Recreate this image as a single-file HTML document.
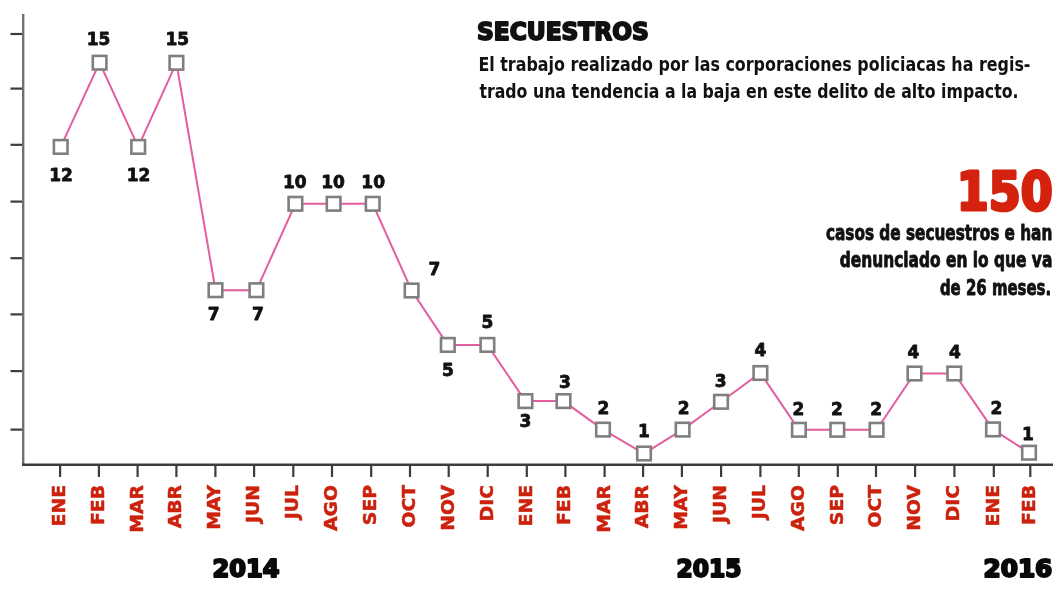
<!DOCTYPE html>
<html><head><meta charset="utf-8"><title>Secuestros</title>
<style>
html,body{margin:0;padding:0;background:#fff;}
body{width:1060px;height:598px;overflow:hidden;position:relative;font-family:"Liberation Sans",sans-serif;}
svg{position:absolute;left:0;top:0;}
.v{font-family:'DejaVu Sans',sans-serif;font-weight:bold;font-size:17px;fill:#111;stroke:#111;stroke-width:0.8px;stroke-linejoin:round;text-anchor:middle;}
.m{font-family:'DejaVu Sans Condensed','DejaVu Sans',sans-serif;font-weight:bold;font-size:18.5px;fill:#cc220d;stroke:#cc220d;stroke-width:0.5px;stroke-linejoin:round;text-anchor:end;}
.yr{font-family:'DejaVu Sans Condensed','DejaVu Sans',sans-serif;font-weight:bold;font-size:25.6px;fill:#0a0a0a;stroke:#0a0a0a;stroke-width:2.0px;stroke-linejoin:round;}
.t{position:absolute;white-space:nowrap;margin:0;font-weight:bold;line-height:1;}
</style></head>
<body>
<svg width="1060" height="598" viewBox="0 0 1060 598">
<line x1="23.2" y1="14" x2="23.2" y2="465.5" stroke="#707070" stroke-width="2.4"/>
<line x1="10.5" y1="34" x2="22" y2="34" stroke="#3c3c3c" stroke-width="2.2"/>
<line x1="10.5" y1="88.6" x2="22" y2="88.6" stroke="#3c3c3c" stroke-width="2.2"/>
<line x1="10.5" y1="144.8" x2="22" y2="144.8" stroke="#3c3c3c" stroke-width="2.2"/>
<line x1="10.5" y1="201.6" x2="22" y2="201.6" stroke="#3c3c3c" stroke-width="2.2"/>
<line x1="10.5" y1="258.2" x2="22" y2="258.2" stroke="#3c3c3c" stroke-width="2.2"/>
<line x1="10.5" y1="314.4" x2="22" y2="314.4" stroke="#3c3c3c" stroke-width="2.2"/>
<line x1="10.5" y1="371.1" x2="22" y2="371.1" stroke="#3c3c3c" stroke-width="2.2"/>
<line x1="10.5" y1="429.6" x2="22" y2="429.6" stroke="#3c3c3c" stroke-width="2.2"/>
<line x1="22" y1="464.8" x2="1053" y2="464.8" stroke="#3c3c3c" stroke-width="2.4"/>
<line x1="60.1" y1="465" x2="60.1" y2="477" stroke="#3c3c3c" stroke-width="2.2"/>
<line x1="98.9" y1="465" x2="98.9" y2="477" stroke="#3c3c3c" stroke-width="2.2"/>
<line x1="137.6" y1="465" x2="137.6" y2="477" stroke="#3c3c3c" stroke-width="2.2"/>
<line x1="176.4" y1="465" x2="176.4" y2="477" stroke="#3c3c3c" stroke-width="2.2"/>
<line x1="215.4" y1="465" x2="215.4" y2="477" stroke="#3c3c3c" stroke-width="2.2"/>
<line x1="254.1" y1="465" x2="254.1" y2="477" stroke="#3c3c3c" stroke-width="2.2"/>
<line x1="293.3" y1="465" x2="293.3" y2="477" stroke="#3c3c3c" stroke-width="2.2"/>
<line x1="332.0" y1="465" x2="332.0" y2="477" stroke="#3c3c3c" stroke-width="2.2"/>
<line x1="371.2" y1="465" x2="371.2" y2="477" stroke="#3c3c3c" stroke-width="2.2"/>
<line x1="410.0" y1="465" x2="410.0" y2="477" stroke="#3c3c3c" stroke-width="2.2"/>
<line x1="448.7" y1="465" x2="448.7" y2="477" stroke="#3c3c3c" stroke-width="2.2"/>
<line x1="487.7" y1="465" x2="487.7" y2="477" stroke="#3c3c3c" stroke-width="2.2"/>
<line x1="526.8" y1="465" x2="526.8" y2="477" stroke="#3c3c3c" stroke-width="2.2"/>
<line x1="565.4" y1="465" x2="565.4" y2="477" stroke="#3c3c3c" stroke-width="2.2"/>
<line x1="604.6" y1="465" x2="604.6" y2="477" stroke="#3c3c3c" stroke-width="2.2"/>
<line x1="643.1" y1="465" x2="643.1" y2="477" stroke="#3c3c3c" stroke-width="2.2"/>
<line x1="681.9" y1="465" x2="681.9" y2="477" stroke="#3c3c3c" stroke-width="2.2"/>
<line x1="721.1" y1="465" x2="721.1" y2="477" stroke="#3c3c3c" stroke-width="2.2"/>
<line x1="760.4" y1="465" x2="760.4" y2="477" stroke="#3c3c3c" stroke-width="2.2"/>
<line x1="798.8" y1="465" x2="798.8" y2="477" stroke="#3c3c3c" stroke-width="2.2"/>
<line x1="837.8" y1="465" x2="837.8" y2="477" stroke="#3c3c3c" stroke-width="2.2"/>
<line x1="876.0" y1="465" x2="876.0" y2="477" stroke="#3c3c3c" stroke-width="2.2"/>
<line x1="915.1" y1="465" x2="915.1" y2="477" stroke="#3c3c3c" stroke-width="2.2"/>
<line x1="954.4" y1="465" x2="954.4" y2="477" stroke="#3c3c3c" stroke-width="2.2"/>
<line x1="993.8" y1="465" x2="993.8" y2="477" stroke="#3c3c3c" stroke-width="2.2"/>
<line x1="1030.3" y1="465" x2="1030.3" y2="477" stroke="#3c3c3c" stroke-width="2.2"/>
<path d="M60.7,146.9 L99.6,62.7 L138.2,146.9 L176.4,62.8 L215.5,290.2 L256.4,290.2 L295.4,203.8 L333.6,203.8 L372.7,203.8 L411.6,290.5 L447.8,344.9 L487.4,344.9 L525.4,401.1 L563.5,401.1 L603.0,429.6 L644.0,453.5 L682.6,429.6 L721.0,401.8 L760.4,373.0 L798.9,429.8 L837.3,429.8 L876.6,429.8 L914.5,373.5 L954.3,373.5 L993.0,429.4 L1029.0,452.7" fill="none" stroke="#e35d9f" stroke-width="2.0"/>
<rect x="53.9" y="140.1" width="13.6" height="13.6" fill="#fff" stroke="#7f7f7f" stroke-width="2.6"/>
<rect x="92.8" y="55.9" width="13.6" height="13.6" fill="#fff" stroke="#7f7f7f" stroke-width="2.6"/>
<rect x="131.4" y="140.1" width="13.6" height="13.6" fill="#fff" stroke="#7f7f7f" stroke-width="2.6"/>
<rect x="169.6" y="56.0" width="13.6" height="13.6" fill="#fff" stroke="#7f7f7f" stroke-width="2.6"/>
<rect x="208.7" y="283.4" width="13.6" height="13.6" fill="#fff" stroke="#7f7f7f" stroke-width="2.6"/>
<rect x="249.6" y="283.4" width="13.6" height="13.6" fill="#fff" stroke="#7f7f7f" stroke-width="2.6"/>
<rect x="288.6" y="197.0" width="13.6" height="13.6" fill="#fff" stroke="#7f7f7f" stroke-width="2.6"/>
<rect x="326.8" y="197.0" width="13.6" height="13.6" fill="#fff" stroke="#7f7f7f" stroke-width="2.6"/>
<rect x="365.9" y="197.0" width="13.6" height="13.6" fill="#fff" stroke="#7f7f7f" stroke-width="2.6"/>
<rect x="404.8" y="283.7" width="13.6" height="13.6" fill="#fff" stroke="#7f7f7f" stroke-width="2.6"/>
<rect x="441.0" y="338.1" width="13.6" height="13.6" fill="#fff" stroke="#7f7f7f" stroke-width="2.6"/>
<rect x="480.6" y="338.1" width="13.6" height="13.6" fill="#fff" stroke="#7f7f7f" stroke-width="2.6"/>
<rect x="518.6" y="394.3" width="13.6" height="13.6" fill="#fff" stroke="#7f7f7f" stroke-width="2.6"/>
<rect x="556.7" y="394.3" width="13.6" height="13.6" fill="#fff" stroke="#7f7f7f" stroke-width="2.6"/>
<rect x="596.2" y="422.8" width="13.6" height="13.6" fill="#fff" stroke="#7f7f7f" stroke-width="2.6"/>
<rect x="637.2" y="446.7" width="13.6" height="13.6" fill="#fff" stroke="#7f7f7f" stroke-width="2.6"/>
<rect x="675.8" y="422.8" width="13.6" height="13.6" fill="#fff" stroke="#7f7f7f" stroke-width="2.6"/>
<rect x="714.2" y="395.0" width="13.6" height="13.6" fill="#fff" stroke="#7f7f7f" stroke-width="2.6"/>
<rect x="753.6" y="366.2" width="13.6" height="13.6" fill="#fff" stroke="#7f7f7f" stroke-width="2.6"/>
<rect x="792.1" y="423.0" width="13.6" height="13.6" fill="#fff" stroke="#7f7f7f" stroke-width="2.6"/>
<rect x="830.5" y="423.0" width="13.6" height="13.6" fill="#fff" stroke="#7f7f7f" stroke-width="2.6"/>
<rect x="869.8" y="423.0" width="13.6" height="13.6" fill="#fff" stroke="#7f7f7f" stroke-width="2.6"/>
<rect x="907.7" y="366.7" width="13.6" height="13.6" fill="#fff" stroke="#7f7f7f" stroke-width="2.6"/>
<rect x="947.5" y="366.7" width="13.6" height="13.6" fill="#fff" stroke="#7f7f7f" stroke-width="2.6"/>
<rect x="986.2" y="422.6" width="13.6" height="13.6" fill="#fff" stroke="#7f7f7f" stroke-width="2.6"/>
<rect x="1022.2" y="445.9" width="13.6" height="13.6" fill="#fff" stroke="#7f7f7f" stroke-width="2.6"/>
<text transform="translate(61.0,181.0) scale(1.0,1)" class="v">12</text>
<text transform="translate(98.5,44.5) scale(1.0,1)" class="v">15</text>
<text transform="translate(138.5,181.2) scale(1.0,1)" class="v">12</text>
<text transform="translate(177.3,44.5) scale(1.0,1)" class="v">15</text>
<text transform="translate(213.6,319.7) scale(1.0,1)" class="v">7</text>
<text transform="translate(258.0,319.7) scale(1.0,1)" class="v">7</text>
<text transform="translate(294.8,187.9) scale(1.0,1)" class="v">10</text>
<text transform="translate(333.0,187.9) scale(1.0,1)" class="v">10</text>
<text transform="translate(373.2,187.9) scale(1.0,1)" class="v">10</text>
<text transform="translate(434.3,275.1) scale(1.0,1)" class="v">7</text>
<text transform="translate(447.8,376.0) scale(1.0,1)" class="v">5</text>
<text transform="translate(487.5,327.9) scale(1.0,1)" class="v">5</text>
<text transform="translate(525.4,427.4) scale(1.0,1)" class="v">3</text>
<text transform="translate(564.9,387.9) scale(1.0,1)" class="v">3</text>
<text transform="translate(603.4,413.7) scale(1.0,1)" class="v">2</text>
<text transform="translate(644.0,437.2) scale(1.0,1)" class="v">1</text>
<text transform="translate(683.7,413.8) scale(1.0,1)" class="v">2</text>
<text transform="translate(720.6,386.6) scale(1.0,1)" class="v">3</text>
<text transform="translate(760.4,356.2) scale(1.0,1)" class="v">4</text>
<text transform="translate(798.4,414.6) scale(1.0,1)" class="v">2</text>
<text transform="translate(836.8,414.6) scale(1.0,1)" class="v">2</text>
<text transform="translate(876.1,414.6) scale(1.0,1)" class="v">2</text>
<text transform="translate(913.3,358.1) scale(1.0,1)" class="v">4</text>
<text transform="translate(954.8,358.1) scale(1.0,1)" class="v">4</text>
<text transform="translate(996.4,413.7) scale(1.0,1)" class="v">2</text>
<text transform="translate(1028.0,439.5) scale(1.0,1)" class="v">1</text>
<text class="m" transform="translate(65.1,485) rotate(-90) scale(1.13,1)">ENE</text>
<text class="m" transform="translate(103.9,485) rotate(-90) scale(1.13,1)">FEB</text>
<text class="m" transform="translate(142.6,485) rotate(-90) scale(1.13,1)">MAR</text>
<text class="m" transform="translate(181.4,485) rotate(-90) scale(1.13,1)">ABR</text>
<text class="m" transform="translate(220.4,485) rotate(-90) scale(1.13,1)">MAY</text>
<text class="m" transform="translate(259.1,485) rotate(-90) scale(1.13,1)">JUN</text>
<text class="m" transform="translate(298.3,485) rotate(-90) scale(1.13,1)">JUL</text>
<text class="m" transform="translate(337.0,485) rotate(-90) scale(1.13,1)">AGO</text>
<text class="m" transform="translate(376.2,485) rotate(-90) scale(1.13,1)">SEP</text>
<text class="m" transform="translate(415.0,485) rotate(-90) scale(1.13,1)">OCT</text>
<text class="m" transform="translate(453.7,485) rotate(-90) scale(1.13,1)">NOV</text>
<text class="m" transform="translate(492.7,485) rotate(-90) scale(1.13,1)">DIC</text>
<text class="m" transform="translate(531.8,485) rotate(-90) scale(1.13,1)">ENE</text>
<text class="m" transform="translate(570.4,485) rotate(-90) scale(1.13,1)">FEB</text>
<text class="m" transform="translate(609.6,485) rotate(-90) scale(1.13,1)">MAR</text>
<text class="m" transform="translate(648.1,485) rotate(-90) scale(1.13,1)">ABR</text>
<text class="m" transform="translate(686.9,485) rotate(-90) scale(1.13,1)">MAY</text>
<text class="m" transform="translate(726.1,485) rotate(-90) scale(1.13,1)">JUN</text>
<text class="m" transform="translate(765.4,485) rotate(-90) scale(1.13,1)">JUL</text>
<text class="m" transform="translate(803.8,485) rotate(-90) scale(1.13,1)">AGO</text>
<text class="m" transform="translate(842.8,485) rotate(-90) scale(1.13,1)">SEP</text>
<text class="m" transform="translate(881.0,485) rotate(-90) scale(1.13,1)">OCT</text>
<text class="m" transform="translate(920.1,485) rotate(-90) scale(1.13,1)">NOV</text>
<text class="m" transform="translate(959.4,485) rotate(-90) scale(1.13,1)">DIC</text>
<text class="m" transform="translate(998.8,485) rotate(-90) scale(1.13,1)">ENE</text>
<text class="m" transform="translate(1035.3,485) rotate(-90) scale(1.13,1)">FEB</text>
<text class="yr" transform="translate(212.5,577.0) scale(1.0451,1)">2014</text>
<text class="yr" transform="translate(676.5,577.0) scale(1.0121,1)">2015</text>
<text class="yr" transform="translate(983.5,577.0) scale(1.0736,1)">2016</text>
<text id="title" transform="translate(477.00,39.98) scale(1.0442,1)" text-anchor="start" style="font-family:'DejaVu Sans Condensed','DejaVu Sans',sans-serif;font-weight:bold;font-size:24.8px;fill:#111;stroke:#111;stroke-width:1.8px;stroke-linejoin:round;">SECUESTROS</text>
<text id="d1" transform="translate(478.40,70.57) scale(0.9309,1)" text-anchor="start" style="font-family:'DejaVu Sans Condensed','DejaVu Sans',sans-serif;font-weight:bold;font-size:19px;fill:#111;stroke:#111;stroke-width:0px;stroke-linejoin:round;">El trabajo realizado por las corporaciones policiacas ha regis-</text>
<text id="d2" transform="translate(479.40,97.97) scale(0.9224,1)" text-anchor="start" style="font-family:'DejaVu Sans Condensed','DejaVu Sans',sans-serif;font-weight:bold;font-size:19px;fill:#111;stroke:#111;stroke-width:0px;stroke-linejoin:round;">trado una tendencia a la baja en este delito de alto impacto.</text>
<text id="big" transform="translate(1052.60,209.84) scale(0.9633,1)" text-anchor="end" style="font-family:'DejaVu Sans Condensed','DejaVu Sans',sans-serif;font-weight:bold;font-size:53px;fill:#d4220e;stroke:#d4220e;stroke-width:3px;stroke-linejoin:round;">150</text>
<text id="s1" transform="translate(1052.30,239.67) scale(0.8091,1)" text-anchor="end" style="font-family:'DejaVu Sans Condensed','DejaVu Sans',sans-serif;font-weight:bold;font-size:21px;fill:#111;stroke:#111;stroke-width:0.8px;stroke-linejoin:round;">casos de secuestros e han</text>
<text id="s2" transform="translate(1052.30,267.07) scale(0.8168,1)" text-anchor="end" style="font-family:'DejaVu Sans Condensed','DejaVu Sans',sans-serif;font-weight:bold;font-size:21px;fill:#111;stroke:#111;stroke-width:0.8px;stroke-linejoin:round;">denunciado en lo que va</text>
<text id="s3" transform="translate(1051.20,295.27) scale(0.7911,1)" text-anchor="end" style="font-family:'DejaVu Sans Condensed','DejaVu Sans',sans-serif;font-weight:bold;font-size:21px;fill:#111;stroke:#111;stroke-width:0.8px;stroke-linejoin:round;">de 26 meses.</text>
</svg>
</body></html>
